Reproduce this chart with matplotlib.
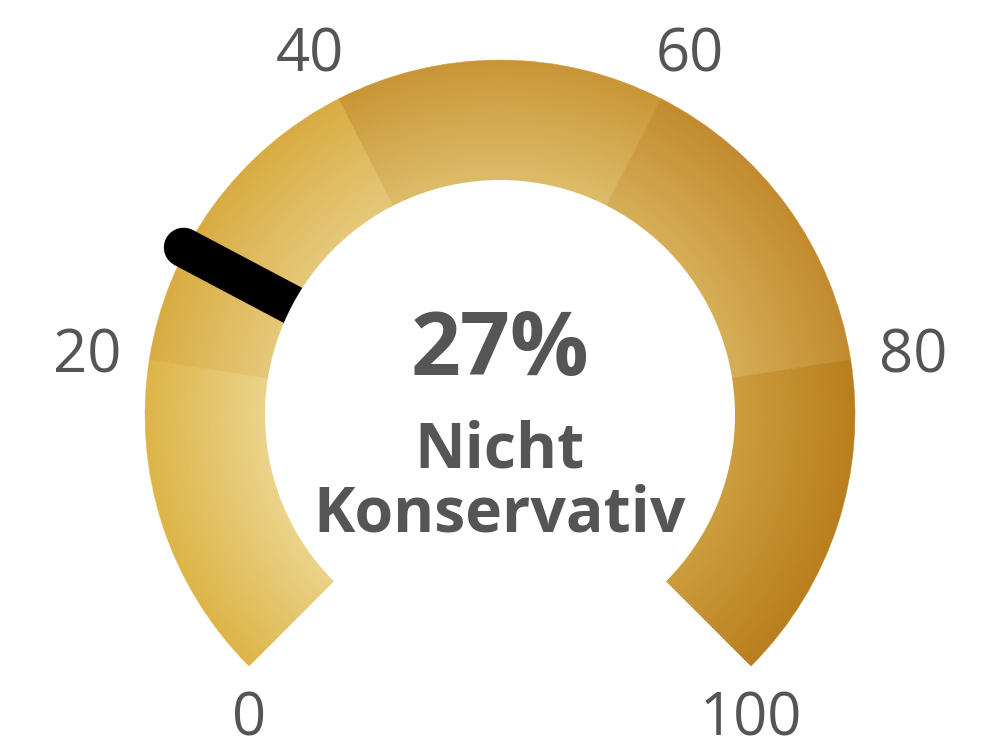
import numpy as np
import matplotlib.pyplot as plt
from matplotlib.patches import Wedge, Circle
from matplotlib.colors import to_rgb

# gauge data
value = 27
caption = "Nicht\nKonservativ"
band_edges = [0, 20, 40, 60, 80, 100]
band_inner = ["#EBD38B", "#E6C87A", "#DDBC6A", "#D6AE58", "#CC9D3E"]
band_outer = ["#DDB548", "#D8AC42", "#C99636", "#C28B2E", "#B97E1E"]
tick_values = [0, 20, 40, 60, 80, 100]

W, H = 1000, 753
cx, cy = 500, H - 415
r_out, r_in = 355, 235
start_ang, sweep = 225, 270
grey = "#555555"


def ang(v):
    return start_ang - sweep * v / 100.0


def main():
    plt.rcParams['font.family'] = ['Open Sans', 'DejaVu Sans']
    fig = plt.figure(figsize=(10, 7.53), dpi=100)
    ax = fig.add_axes([0, 0, 1, 1])
    ax.set_xlim(0, W)
    ax.set_ylim(0, H)
    ax.set_aspect('equal')
    ax.axis('off')

    # bands with radial gradient (light inside, dark outside)
    n_rings = 40
    for i in range(len(band_edges) - 1):
        a1, a2 = ang(band_edges[i + 1]), ang(band_edges[i])
        c_in = np.array(to_rgb(band_inner[i]))
        c_out = np.array(to_rgb(band_outer[i]))
        step = (r_out - r_in) / n_rings
        for k in range(n_rings):
            t = (k + 0.5) / n_rings
            col = c_in + (c_out - c_in) * t
            r = r_in + (k + 1) * step
            ax.add_patch(Wedge((cx, cy), r, a1, a2, width=step + 0.6,
                               facecolor=col, edgecolor=col, linewidth=0.3,
                               zorder=1))

    # needle
    th = np.radians(ang(value))
    ax.plot([cx, cx + 358 * np.cos(th)], [cy, cy + 358 * np.sin(th)],
            color='black', linewidth=28.5, solid_capstyle='round', zorder=2)
    ax.add_patch(Circle((cx, cy), r_in, facecolor='white', edgecolor='none',
                        zorder=3))

    # tick labels
    for v in tick_values:
        a = np.radians(ang(v))
        if v in (tick_values[0], tick_values[-1]):
            x = cx + r_out * np.cos(a)
            y = cy + r_out * np.sin(a) - 48
        else:
            x = cx + 418 * np.cos(a)
            y = cy + 410 * np.sin(a)
        ax.text(x, y - 21.5, str(v), ha='center', va='baseline',
                fontsize=43, color=grey, zorder=4)

    # centre text
    ax.text(cx, H - 375, f"{value}%", ha='center', va='baseline',
            fontsize=63, fontweight='bold', color=grey, zorder=4)
    lines = caption.split("\n")
    ax.text(cx, H - 467, lines[0], ha='center', va='baseline',
            fontsize=45, fontweight='bold', color=grey, zorder=4)
    ax.text(cx, H - 532, lines[1], ha='center', va='baseline',
            fontsize=45, fontweight='bold', color=grey, zorder=4)

    fig.savefig("out.png", dpi=100, facecolor='white')


if __name__ == "__main__":
    main()
